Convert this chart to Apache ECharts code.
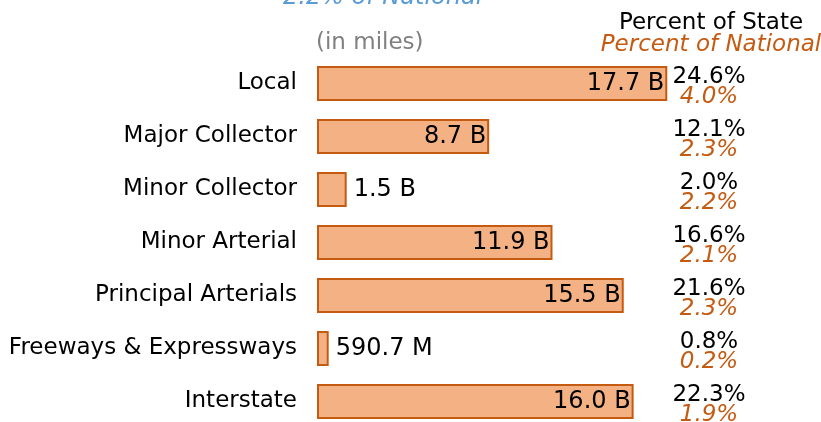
<!DOCTYPE html>
<html>
<head>
<meta charset="utf-8">
<script src="https://cdn.jsdelivr.net/npm/echarts@6/dist/echarts.min.js"></script>
<style>
html, body { margin: 0; padding: 0; background: #fff; }
#chart { width: 821px; height: 422px; }
</style>
</head>
<body>
<div id="chart"></div>
<script>
// road types, bottom to top
var categories = ['Interstate', 'Freeways & Expressways', 'Principal Arterials', 'Minor Arterial', 'Minor Collector', 'Major Collector', 'Local'];
var miles = [16.0, 0.5907, 15.5, 11.9, 1.5, 8.7, 17.7]; // billions
var milesLabels = ['16.0 B', '590.7 M', '15.5 B', '11.9 B', '1.5 B', '8.7 B', '17.7 B'];
var pctState = ['22.3%', '0.8%', '21.6%', '16.6%', '2.0%', '12.1%', '24.6%'];
var pctNational = ['1.9%', '0.2%', '2.3%', '2.1%', '2.2%', '2.3%', '4.0%'];

var FONT = 'DejaVu Sans';
var FS = 23;
var ORANGE = '#c55a11';

const chart = echarts.init(document.getElementById('chart'));
var option = {
    animation: false,
    textStyle: { fontFamily: FONT },
    graphic: [
        { type: 'text', x: 283, y: -2, style: { text: '2.2% of National', fill: '#5b9bd5', font: 'italic 24px "DejaVu Sans"', textVerticalAlign: 'middle' } },
        { type: 'text', x: 316, y: 43, style: { text: '(in miles)', fill: '#808080', font: FS + 'px "DejaVu Sans"', textVerticalAlign: 'middle' } },
        { type: 'text', x: 711, y: 23.5, style: { text: 'Percent of State', fill: '#000', font: FS + 'px "DejaVu Sans"', textAlign: 'center', textVerticalAlign: 'middle' } },
        { type: 'text', x: 711, y: 45.5, style: { text: 'Percent of National', fill: ORANGE, font: 'italic ' + FS + 'px "DejaVu Sans"', textAlign: 'center', textVerticalAlign: 'middle' } }
    ],
    // row centres run from y=84 (Local) to y=402 (Interstate)
    grid: { left: 317, top: 83.5, width: 376, height: 318, outerBoundsMode: 'none' },
    xAxis: { type: 'value', min: 0, max: 19, show: false },
    yAxis: [
        {
            type: 'category',
            data: categories,
            boundaryGap: false,
            axisLine: { show: false },
            axisTick: { show: false },
            splitLine: { show: false },
            axisLabel: { color: '#000', fontSize: FS, margin: 20, fontFamily: FONT }
        },
        {
            type: 'category',
            position: 'right',
            data: categories,
            boundaryGap: false,
            axisLine: { show: false },
            axisTick: { show: false },
            splitLine: { show: false },
            axisLabel: {
                margin: 16,
                align: 'center',
                padding: [7, 0, 0, 0],
                formatter: function (v, i) {
                    return '{s|' + pctState[i] + '}\n{n|' + pctNational[i] + '}';
                },
                rich: {
                    s: { color: '#000', fontSize: FS, lineHeight: 20, fontFamily: FONT },
                    n: { color: ORANGE, fontSize: FS, lineHeight: 20, fontStyle: 'italic', fontFamily: FONT }
                }
            }
        }
    ],
    series: [
        {
            type: 'bar',
            barWidth: 35,
            data: miles.map(function (v, i) {
                var small = v < 3;
                return {
                    value: v,
                    label: {
                        position: small ? 'right' : 'insideRight',
                        distance: small ? 7 : 3
                    }
                };
            }),
            itemStyle: { color: '#f4b183', borderColor: ORANGE, borderWidth: 2 },
            label: {
                show: true,
                color: '#000',
                fontSize: 24,
                fontFamily: FONT,
                formatter: function (p) { return milesLabels[p.dataIndex]; }
            }
        }
    ]
};
option && chart.setOption(option);
</script>
</body>
</html>
